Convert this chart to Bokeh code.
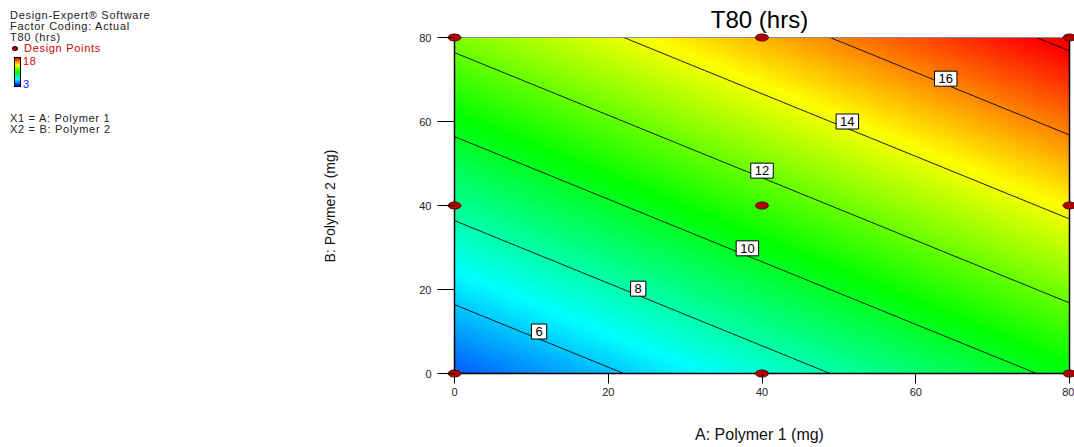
import numpy as np
from bokeh.plotting import figure
from bokeh.layouts import row
from bokeh.models import Range1d, FixedTicker, ColumnDataSource, Div
from bokeh.core.properties import value
from bokeh.embed import file_html
from bokeh.resources import INLINE

# ---------------- data ----------------
factor_A = [0, 40, 80]          # A: Polymer 1 (mg) grid
factor_B = [0, 40, 80]          # B: Polymer 2 (mg) grid
# T80 (hrs) response surface at the design grid; rows = A, cols = B
t80_surface = [
    [4.36, 8.36, 12.36],
    [7.34, 11.34, 15.34],
    [10.32, 14.32, 18.32],
]
contour_levels = [6, 8, 10, 12, 14, 16, 18]
label_levels = [6, 8, 10, 12, 14, 16]
label_A = [11.0, 23.9, 38.1, 40.0, 51.1, 63.9]
label_B = [10.0, 20.2, 29.8, 48.3, 60.0, 70.2]
design_A = [0, 40, 80, 0, 40, 80, 0, 40, 80]
design_B = [0, 0, 0, 40, 40, 40, 80, 80, 80]
color_min, color_max = 3, 18
x_ticks = [0, 20, 40, 60, 80]
y_ticks = [0, 20, 40, 60, 80]
info_lines = ["Design-Expert\u00ae Software", "Factor Coding: Actual", "T80 (hrs)"]
factor_lines = ["X1 = A: Polymer 1", "X2 = B: Polymer 2"]

FONT = "Liberation Sans"

# ---------------- colour map ----------------
stop_t = [0.0, 0.25, 0.5, 0.75, 1.0]
stop_r = [0, 0, 0, 255, 255]
stop_g = [0, 255, 255, 255, 0]
stop_b = [255, 255, 0, 0, 0]


def to_rgba(z):
    z = np.asarray(z, dtype=float)
    t = np.clip((z - color_min) / (color_max - color_min), 0, 1)
    img = np.empty(z.shape, dtype=np.uint32)
    v = img.view(dtype=np.uint8).reshape(z.shape + (4,))
    v[..., 0] = np.interp(t, stop_t, stop_r).astype(np.uint8)
    v[..., 1] = np.interp(t, stop_t, stop_g).astype(np.uint8)
    v[..., 2] = np.interp(t, stop_t, stop_b).astype(np.uint8)
    v[..., 3] = 255
    return img


# ---------------- fine surface (bilinear on design grid) ----------------
N = 161
a_fine = np.linspace(0, 80, N)
b_fine = np.linspace(0, 80, N)
S = np.array(t80_surface, dtype=float)
rows_b = np.array([np.interp(b_fine, factor_B, S[i]) for i in range(len(factor_A))])  # (3, N)
Z = np.array([np.interp(a_fine, factor_A, rows_b[:, j]) for j in range(N)])         # rows = B, cols = A

# ---------------- layout constants (pixels) ----------------
W_LEFT = 300
W_MAIN = 1074 - W_LEFT
H = 447
frame_left, frame_right = 444 - W_LEFT, W_MAIN
frame_top, frame_bottom = 32, 379
img_left_px, img_bottom_px = 454 - W_LEFT, 373
ppx = (1069 - 454) / 80.0
ppy = (373 - 37) / 80.0
x0 = -(img_left_px - frame_left) / ppx
x1 = x0 + (frame_right - frame_left) / ppx
y0 = -(frame_bottom - img_bottom_px) / ppy
y1 = y0 + (frame_bottom - frame_top) / ppy

p = figure(width=W_MAIN, height=H, x_range=Range1d(x0, x1), y_range=Range1d(y0, y1),
           toolbar_location=None, output_backend="svg",
           min_border_left=frame_left, min_border_right=0,
           min_border_top=frame_top, min_border_bottom=H - frame_bottom)
p.outline_line_color = None
p.grid.visible = False
p.background_fill_color = "white"
p.border_fill_color = "white"

p.title.text = "T80 (hrs)"
p.title.align = "center"
p.title.text_font = FONT
p.title.text_font_size = "24px"
p.title.text_font_style = "normal"
p.title.text_color = "black"
p.title.standoff = 0
p.title.offset = 0

p.image_rgba(image=[to_rgba(Z)], x=0, y=0, dw=80, dh=80)
p.contour(x=a_fine, y=b_fine, z=Z, levels=contour_levels, line_color="black", line_width=0.9)

# frame edges
p.segment(x0=[0, 0, 80], y0=[0, 0, 0], x1=[0, 80, 80], y1=[80, 0, 80], line_color="black", line_width=1.5)
p.segment(x0=[0], y0=[80], x1=[80], y1=[80], line_color="#8c8c8c", line_width=1)

# contour labels
lab_src = ColumnDataSource(dict(x=label_A, y=label_B, t=[str(v) for v in label_levels]))
p.text(x="x", y="y", text="t", source=lab_src, text_align="center", text_baseline="middle",
       text_font=value(FONT), text_font_size="13px", text_color="black",
       background_fill_color="white", border_line_color="black", border_line_width=1,
       padding=[4, 3])

# design points
p.ellipse(x=design_A, y=design_B, width=13, height=7, width_units="screen", height_units="screen",
          fill_color="#b00000", line_color="#5a0000", line_width=1)

# axes
xa = p.xaxis[0]
xa.ticker = FixedTicker(ticks=x_ticks)
xa.major_tick_in = 6
xa.major_tick_out = 4
xa.minor_tick_line_color = None
xa.axis_line_color = None
xa.major_tick_line_color = "black"
xa.major_label_standoff = 4
xa.major_label_text_font = FONT
xa.major_label_text_font_size = "11px"
xa.major_label_text_color = "#222222"
xa.axis_label = "A: Polymer 1 (mg)"
xa.axis_label_text_font = FONT
xa.axis_label_text_font_size = "16px"
xa.axis_label_text_font_style = "normal"
xa.axis_label_text_color = "#111111"
xa.axis_label_standoff = 27

ya = p.yaxis[0]
ya.ticker = FixedTicker(ticks=y_ticks)
ya.major_tick_in = 10
ya.major_tick_out = 7
ya.minor_tick_line_color = None
ya.axis_line_color = None
ya.major_tick_line_color = "black"
ya.major_label_standoff = 6
ya.major_label_text_font = FONT
ya.major_label_text_font_size = "11px"
ya.major_label_text_color = "#222222"
ya.axis_label = "B: Polymer 2 (mg)"
ya.axis_label_text_font = FONT
ya.axis_label_text_font_size = "14px"
ya.axis_label_text_font_style = "normal"
ya.axis_label_text_color = "#111111"
ya.axis_label_standoff = 78

# ---------------- left info panel (HTML) ----------------
def line(text, left, cy, color="#222222"):
    return (f'<div style="position:absolute;left:{left}px;top:{cy - 5.5}px;height:11px;line-height:11px;'
            f'white-space:nowrap;letter-spacing:0.7px;color:{color};">{text}</div>')

parts = []
for txt, cy in zip(info_lines, [15, 26, 37]):
    parts.append(line(txt, 10, cy))
parts.append('<div style="position:absolute;left:12px;top:46px;width:6px;height:5px;border-radius:50%;'
             'background:#b00000;border:1px solid #3a0000;box-sizing:border-box;"></div>')
parts.append(line("Design Points", 24, 48.5, "#d00000"))
parts.append('<div style="position:absolute;left:14px;top:57px;width:7px;height:30px;box-sizing:border-box;'
             'border:1px solid #000;background:linear-gradient(to bottom,#ff0000,#ffff00,#00ff00,#00ffff,#0000ff);"></div>')
parts.append(line(str(color_max), 23, 61, "#e00000"))
parts.append(line(str(color_min), 23, 84, "#2020ff"))
for txt, cy in zip(factor_lines, [118, 129]):
    parts.append(line(txt, 10, cy))
html = (f'<div style="position:relative;width:{W_LEFT}px;height:{H}px;font-family:\'{FONT}\';'
        f'font-size:11px;">' + "".join(parts) + '</div>')
info = Div(text=html, width=W_LEFT, height=H, margin=0)

layout = row(info, p)
open("out.html", "w").write(file_html(layout, INLINE))
